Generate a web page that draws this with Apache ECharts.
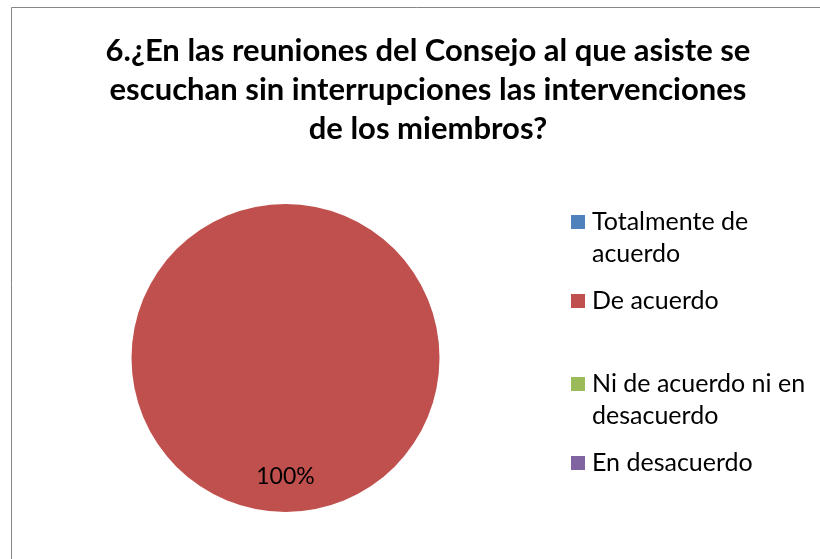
<!DOCTYPE html>
<html><head><meta charset="utf-8">
<script src="https://cdn.jsdelivr.net/npm/echarts@6/dist/echarts.min.js"></script>
<style>html,body{margin:0;padding:0;background:#fff}#c{width:820px;height:559px}</style>
</head><body><div id="c"></div>
<script>
const titleText = "6.¿En las reuniones del Consejo al que asiste se\nescuchan sin interrupciones las intervenciones\nde los miembros?";
const categories = ["Totalmente de acuerdo", "De acuerdo", "Ni de acuerdo ni en desacuerdo", "En desacuerdo"];
const legendLabels = ["\nTotalmente de\nacuerdo", "De acuerdo", "\nNi de acuerdo ni en\ndesacuerdo", "En desacuerdo"];
const values = [0, 100, 0, 0];
const colors = ["#4F81BD", "#C0504D", "#9BBB59", "#8064A2"];
const legendTops = [174, 285, 336, 447];

const chart = echarts.init(document.getElementById('c'), null, {renderer: 'canvas'});
const fontFam = 'Lato, "Open Sans", sans-serif';
const legends = categories.map((c, i) => ({
  data: [c],
  orient: 'vertical',
  left: 571,
  top: legendTops[i],
  padding: 0,
  itemWidth: 14,
  itemHeight: 14,
  icon: 'rect',
  selectedMode: false,
  formatter: () => legendLabels[i],
  textStyle: {fontFamily: fontFam, fontSize: 25, color: '#000', lineHeight: 32, padding: [0,0,0,2]}
}));
chart.setOption({
  animation: false,
  color: colors,
  title: {
    text: titleText,
    left: 423, top: 26, textAlign: 'center',
    textStyle: {fontFamily: fontFam, fontWeight: 'bold', fontSize: 31, color: '#000', lineHeight: 39}
  },
  legend: legends,
  graphic: [{
    type: 'rect', silent: true,
    shape: {x: 11.5, y: 7.5, width: 900, height: 700},
    style: {fill: 'none', stroke: '#868686', lineWidth: 1}
  }],
  series: [{
    type: 'pie',
    center: [285.5, 358],
    radius: 154,
    startAngle: 90,
    clockwise: true,
    data: categories.map((c, i) => ({name: c, value: values[i]})),
    label: {
      position: 'inside',
      formatter: p => p.value > 0 ? '\n' + Math.round(p.percent) + '%' : '',
      fontFamily: fontFam, fontSize: 23, color: '#000',
      lineHeight: 78
    },
    labelLine: {show: false},
    itemStyle: {borderWidth: 0},
    emphasis: {disabled: true}
  }]
});
</script></body></html>
